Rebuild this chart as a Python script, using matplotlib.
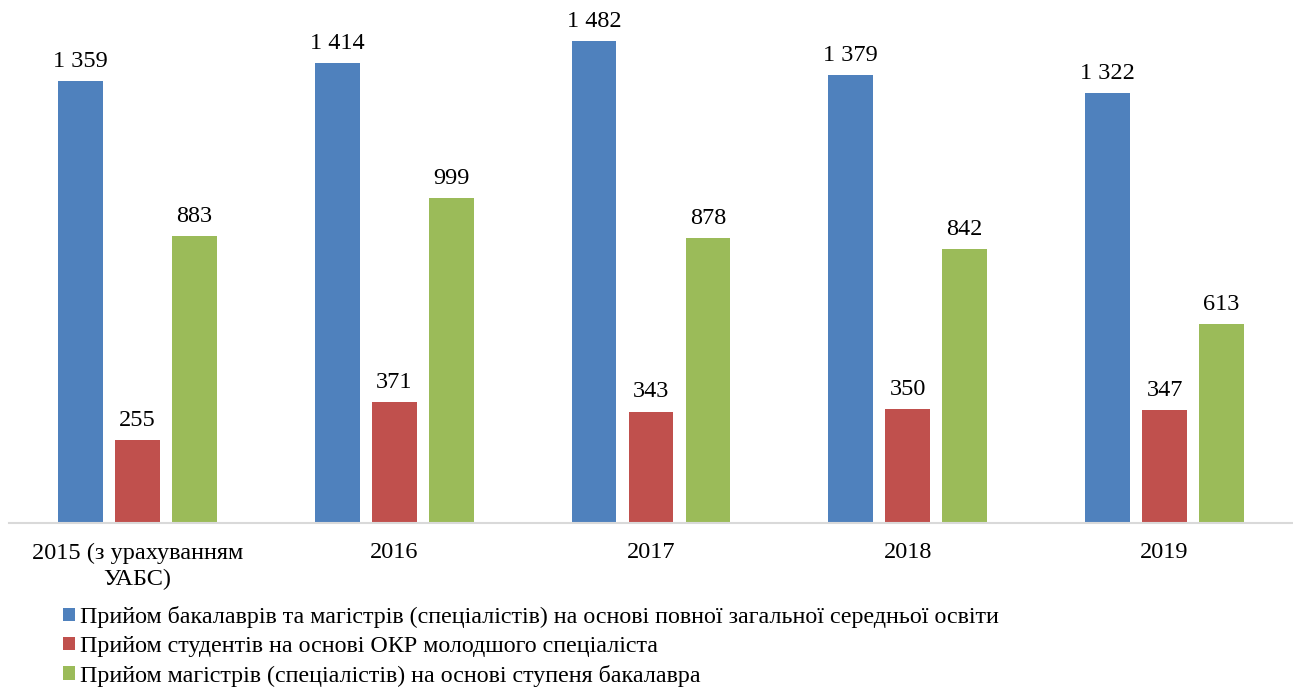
import matplotlib
matplotlib.use("Agg")
import matplotlib.pyplot as plt
import numpy as np
from matplotlib.patches import Patch

categories = ["2015 (з урахуванням\nУАБС)", "2016", "2017", "2018", "2019"]
series_names = [
    "Прийом бакалаврів та магістрів (спеціалістів) на основі повної загальної середньої освіти",
    "Прийом студентів на основі ОКР молодшого спеціаліста",
    "Прийом магістрів (спеціалістів) на основі ступеня бакалавра",
]
bachelors = [1359, 1414, 1482, 1379, 1322]
junior = [255, 371, 343, 350, 347]
masters = [883, 999, 878, 842, 613]
colors = ["#4F81BD", "#C0504D", "#9BBB59"]

plt.rcParams['font.family'] = ['Liberation Serif', 'DejaVu Serif']

fig = plt.figure(figsize=(12.93, 6.88), dpi=100)
ax = fig.add_axes([9/1293, (688-523)/688, 1284/1293, 520/688])

x = np.arange(len(categories))
width = 0.175
offsets = [-0.222, 0.0, 0.222]
for vals, off, col in zip([bachelors, junior, masters], offsets, colors):
    bars = ax.bar(x + off, vals, width, color=col)
    for b, v in zip(bars, vals):
        s = f"{v:,}".replace(",", " ")
        ax.annotate(s, (b.get_x() + b.get_width()/2, v), xytext=(0, 6.5),
                    textcoords="offset points", ha="center", va="bottom", fontsize=17.5)

ax.set_xlim(-0.5, len(categories) - 0.5)
ax.set_ylim(0, 1600)
ax.set_yticks([])
for sp in ["top", "right", "left"]:
    ax.spines[sp].set_visible(False)
ax.spines["bottom"].set_color("#D9D9D9")
ax.spines["bottom"].set_linewidth(1.5)
ax.set_xticks(x)
ax.set_xticklabels(categories, fontsize=17.5, linespacing=1.3)
ax.tick_params(axis="x", length=0, pad=14)

handles = [Patch(facecolor=c, edgecolor="none") for c in colors]
fig.legend(handles, series_names, loc="upper left", bbox_to_anchor=(63/1293, 1 - 606/688),
           frameon=False, fontsize=17.3, handlelength=0.5, handleheight=0.5,
           handletextpad=0.2, labelspacing=0.33, borderaxespad=0, borderpad=0)

fig.savefig("out.png", dpi=100)
